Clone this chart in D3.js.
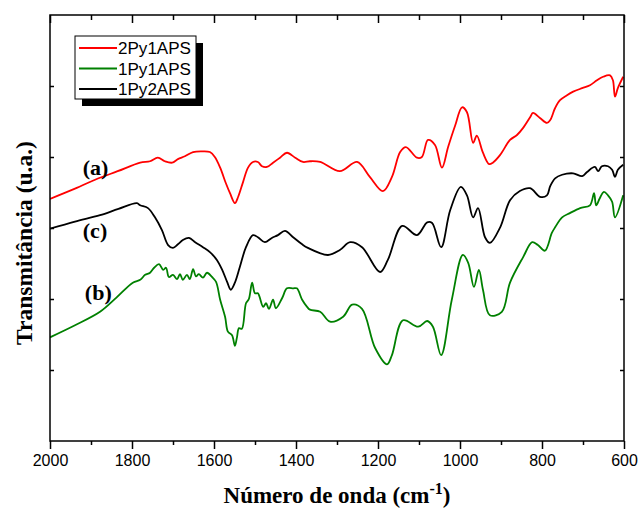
<!DOCTYPE html>
<html>
<head>
<meta charset="utf-8">
<script src="https://cdn.jsdelivr.net/npm/d3@7"></script>
<style>
  html, body { margin: 0; padding: 0; background: #fff; }
  svg { display: block; }
</style>
</head>
<body>
<script>
// ---- Data (wavenumber cm^-1, transmittance a.u.) ----
const seriesNames = ["2Py1APS", "1Py1APS", "1Py2APS"];
const seriesColors = ["#ff0000", "#008000", "#000000"];
const curveLabels = ["(a)", "(b)", "(c)"];

const series2Py1APS = [
  [2000,3.41],[1945,3.54],[1890,3.68],[1835,3.80],[1780,3.92],[1756,3.94],[1737,3.99],[1720,3.94],[1702,3.92],
  [1688,3.97],[1671,4.01],[1651,4.07],[1629,4.08],[1610,4.07],[1598,4.00],[1585,3.85],
  [1571,3.63],[1561,3.49],[1549,3.35],[1541,3.44],[1529,3.65],[1517,3.85],[1505,3.93],
  [1493,3.93],[1483,3.87],[1471,3.86],[1456,3.92],[1439,3.99],[1422,4.06],[1402,3.99],
  [1383,3.93],[1366,3.94],[1341,3.93],[1293,3.80],[1251,3.93],[1220,3.72],[1188,3.52],
  [1166,3.72],[1146,4.07],[1132,4.14],[1105,3.99],[1093,4.00],[1078,4.24],[1061,4.17],
  [1044,3.85],[1029,4.14],[1012,4.44],[995,4.70],[983,4.63],[968,4.20],[959,4.30],
  [944,4.06],[929,3.90],[920,3.92],[902,4.03],[878,4.24],[861,4.31],[846,4.41],
  [829,4.56],[822,4.62],[805,4.55],[788,4.48],[780,4.52],[768,4.69],[756,4.80],
  [739,4.87],[724,4.92],[702,4.97],[683,5.01],[666,5.08],[651,5.13],[634,5.15],
  [627,5.08],[622,4.85],[615,4.97],[602,5.13]
];
const series1Py1APS = [
  [2000,1.46],[1939,1.63],[1878,1.82],[1838,2.02],[1798,2.23],[1780,2.27],[1768,2.34],[1756,2.37],[1746,2.44],
  [1734,2.49],[1724,2.41],[1717,2.44],[1710,2.31],[1700,2.34],[1690,2.28],[1683,2.35],
  [1676,2.27],[1666,2.34],[1659,2.28],[1651,2.42],[1644,2.32],[1637,2.35],[1627,2.30],
  [1617,2.37],[1605,2.31],[1595,2.24],[1585,1.99],[1573,1.75],[1566,1.54],[1556,1.49],
  [1549,1.34],[1544,1.46],[1539,1.59],[1532,1.58],[1522,1.94],[1515,2.00],[1507,2.23],
  [1500,2.08],[1493,2.08],[1480,1.89],[1473,1.94],[1466,1.86],[1456,1.99],[1449,1.87],
  [1434,2.01],[1422,2.15],[1407,2.15],[1398,2.15],[1385,1.99],[1373,1.89],[1366,1.85],
  [1341,1.82],[1317,1.68],[1285,1.75],[1263,1.92],[1239,1.86],[1207,1.31],[1178,1.08],
  [1166,1.21],[1139,1.70],[1102,1.61],[1080,1.69],[1066,1.61],[1046,1.21],[1020,1.99],
  [993,2.62],[980,2.51],[966,2.17],[954,2.41],[944,2.13],[927,1.77],[898,1.82],
  [878,2.23],[846,2.59],[824,2.80],[810,2.76],[793,2.68],[776,2.93],[768,3.01],
  [751,3.15],[732,3.21],[707,3.28],[683,3.32],[673,3.49],[668,3.32],[659,3.42],
  [649,3.51],[639,3.46],[629,3.37],[622,3.15],[602,3.46]
];
const series1Py2APS = [
  [2000,2.99],[1939,3.09],[1878,3.18],[1833,3.27],[1788,3.35],[1780,3.32],[1761,3.28],[1744,3.15],[1727,2.97],
  [1712,2.76],[1700,2.72],[1688,2.77],[1676,2.83],[1661,2.86],[1646,2.80],[1627,2.73],
  [1610,2.66],[1593,2.55],[1580,2.41],[1568,2.24],[1559,2.13],[1549,2.23],[1537,2.45],
  [1522,2.73],[1505,2.90],[1493,2.87],[1476,2.80],[1459,2.86],[1444,2.90],[1427,2.96],
  [1407,2.87],[1385,2.77],[1371,2.72],[1322,2.62],[1293,2.69],[1268,2.80],[1239,2.73],
  [1195,2.38],[1176,2.55],[1141,3.03],[1105,2.90],[1080,3.08],[1068,3.07],[1046,2.73],
  [1024,3.25],[998,3.58],[983,3.46],[968,3.15],[956,3.28],[939,2.87],[927,2.79],
  [902,3.01],[878,3.39],[854,3.52],[829,3.56],[805,3.44],[788,3.46],[780,3.59],
  [768,3.70],[751,3.75],[724,3.77],[702,3.73],[690,3.79],[671,3.86],[663,3.80],
  [654,3.87],[639,3.87],[629,3.82],[622,3.72],[615,3.82],[602,3.89]
];

const xMajorTicks = [2000, 1800, 1600, 1400, 1200, 1000, 800, 600];
const xMinorTicks = [1900, 1700, 1500, 1300, 1100, 900, 700];
const yTicks = [1, 2, 3, 4, 5];

// ---- Layout ----
const W = 638, H = 508;
const plot = { left: 50, right: 624, top: 15, bottom: 441 };

const svg = d3.select("body").append("svg").attr("width", W).attr("height", H);

const x = d3.scaleLinear().domain([2000, 600]).range([plot.left, plot.right]);
const y = d3.scaleLinear().domain([0, 6]).range([plot.bottom, plot.top]);

svg.append("defs").append("clipPath").attr("id", "clip")
  .append("rect").attr("x", plot.left).attr("y", plot.top)
  .attr("width", plot.right - plot.left).attr("height", plot.bottom - plot.top);

// Curves
const line = d3.line().x(d => x(d[0])).y(d => y(d[1])).curve(d3.curveCatmullRom.alpha(0.5));
const allSeries = [series2Py1APS, series1Py1APS, series1Py2APS];
const g = svg.append("g").attr("clip-path", "url(#clip)");
allSeries.forEach((s, i) => {
  g.append("path").datum(s)
    .attr("fill", "none")
    .attr("stroke", seriesColors[i])
    .attr("stroke-width", 1.8)
    .attr("stroke-linejoin", "round")
    .attr("d", line);
});

// Frame
svg.append("rect")
  .attr("x", plot.left).attr("y", plot.top)
  .attr("width", plot.right - plot.left).attr("height", plot.bottom - plot.top)
  .attr("fill", "none").attr("stroke", "#000").attr("stroke-width", 1.5);

// Bottom axis (outward ticks)
const bottomAxis = d3.axisBottom(x).tickValues(xMajorTicks).tickSize(8).tickPadding(6)
  .tickFormat(d3.format("d"));
const bx = svg.append("g").attr("transform", `translate(0,${plot.bottom})`).call(bottomAxis);
bx.select(".domain").remove();
bx.selectAll(".tick line").attr("stroke-width", 1.5);
bx.selectAll(".tick text").attr("font-family", "Liberation Sans, Arial, sans-serif")
  .attr("font-size", 16).attr("fill", "#000");
const bxm = svg.append("g").attr("transform", `translate(0,${plot.bottom})`)
  .call(d3.axisBottom(x).tickValues(xMinorTicks).tickSize(4).tickFormat(""));
bxm.select(".domain").remove();
bxm.selectAll(".tick line").attr("stroke-width", 1.5);

// Top axis (inward ticks)
const tx = svg.append("g").attr("transform", `translate(0,${plot.top})`)
  .call(d3.axisBottom(x).tickValues(xMajorTicks).tickSize(8).tickFormat(""));
tx.select(".domain").remove();
tx.selectAll(".tick line").attr("stroke-width", 1.5);
const txm = svg.append("g").attr("transform", `translate(0,${plot.top})`)
  .call(d3.axisBottom(x).tickValues(xMinorTicks).tickSize(5).tickFormat(""));
txm.select(".domain").remove();
txm.selectAll(".tick line").attr("stroke-width", 1.5);

// Left/right axes (inward ticks, no labels)
const ly = svg.append("g").attr("transform", `translate(${plot.left},0)`)
  .call(d3.axisRight(y).tickValues(yTicks).tickSize(4).tickFormat(""));
ly.select(".domain").remove();
ly.selectAll(".tick line").attr("stroke-width", 1.5);
const ry = svg.append("g").attr("transform", `translate(${plot.right},0)`)
  .call(d3.axisLeft(y).tickValues(yTicks).tickSize(4).tickFormat(""));
ry.select(".domain").remove();
ry.selectAll(".tick line").attr("stroke-width", 1.5);

// Axis titles
const serif = "Liberation Serif, Times New Roman, serif";
const xt = svg.append("text")
  .attr("x", (plot.left + plot.right) / 2).attr("y", 503)
  .attr("text-anchor", "middle")
  .attr("font-family", serif).attr("font-weight", "bold").attr("font-size", 23);
xt.append("tspan").text("Número de onda (cm");
xt.append("tspan").attr("dy", -9).attr("font-size", 16).text("-1");
xt.append("tspan").attr("dy", 9).text(")");

svg.append("text")
  .attr("transform", `translate(32,243) rotate(-90)`)
  .attr("text-anchor", "middle")
  .attr("font-family", serif).attr("font-weight", "bold").attr("font-size", 23.5)
  .text("Transmitância (u.a.)");

// Curve labels
const labelPos = [[1920, 3.74], [1915, 1.99], [1920, 2.86]];
curveLabels.forEach((t, i) => {
  svg.append("text")
    .attr("x", x(labelPos[i][0])).attr("y", y(labelPos[i][1]))
    .attr("font-family", serif).attr("font-weight", "bold").attr("font-size", 22)
    .attr("fill", "#000").text(t);
});

// Legend
const lg = { x: 75, y: 36, w: 121, h: 63 };
svg.append("rect").attr("x", lg.x + 7).attr("y", lg.y + 7)
  .attr("width", lg.w).attr("height", lg.h).attr("fill", "#000");
svg.append("rect").attr("x", lg.x).attr("y", lg.y)
  .attr("width", lg.w).attr("height", lg.h)
  .attr("fill", "#fff").attr("stroke", "#000").attr("stroke-width", 1);
seriesNames.forEach((n, i) => {
  const yy = lg.y + 12 + i * 20.5;
  svg.append("line").attr("x1", lg.x + 4).attr("x2", lg.x + 42)
    .attr("y1", yy).attr("y2", yy)
    .attr("stroke", seriesColors[i]).attr("stroke-width", 2);
  svg.append("text").attr("x", lg.x + 43).attr("y", yy + 6)
    .attr("font-family", "Liberation Sans, Arial, sans-serif").attr("font-size", 16)
    .attr("textLength", 73).attr("lengthAdjust", "spacingAndGlyphs")
    .text(n);
});
</script>
</body>
</html>
